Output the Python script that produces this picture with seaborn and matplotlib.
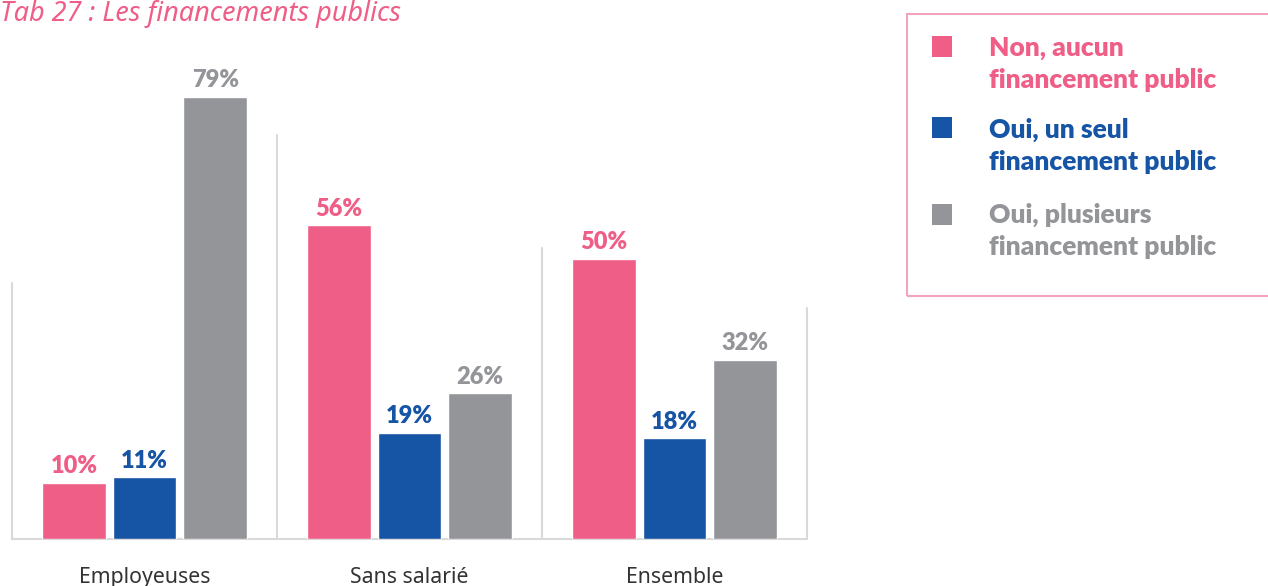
import numpy as np
import pandas as pd
import seaborn as sns
import matplotlib.pyplot as plt
from matplotlib.patches import Rectangle

# data
groups = ['Employeuses', 'Sans salarié', 'Ensemble']
series = ['Non, aucun\nfinancement public',
          'Oui, un seul\nfinancement public',
          'Oui, plusieurs\nfinancement public']
non_aucun = [10, 56, 50]
oui_un = [11, 19, 18]
oui_plusieurs = [79, 26, 32]
colors = ['#EF5E87', '#1654A5', '#949599']

# heights of the thin separator lines between groups (decoration)
sep_tops = [45.7, 72.2, 52.0, 41.3]

W, H = 1268, 586

df = pd.DataFrame({
    'groupe': groups * 3,
    'serie': [series[0]] * 3 + [series[1]] * 3 + [series[2]] * 3,
    'valeur': non_aucun + oui_un + oui_plusieurs,
})

sns.set_style('white')
plt.rcParams['font.family'] = ['Lato', 'DejaVu Sans']
regular = ['Noto Sans', 'DejaVu Sans']

fig = plt.figure(figsize=(W / 100, H / 100), dpi=100)
ax = fig.add_axes([12 / W, 47 / H, 795 / W, 504 / H])

sns.barplot(data=df, x='groupe', y='valeur', hue='serie', hue_order=series,
            palette=colors, width=0.8, gap=0.1, saturation=1,
            legend=False, ax=ax)

for cont, c in zip(ax.containers, colors):
    ax.bar_label(cont, fmt='%d%%', padding=4, color=c,
                 fontsize=17, fontweight='heavy')

ax.set_xlim(-0.5, 2.5)
ax.set_ylim(0, 90)
sns.despine(ax=ax, left=True, bottom=True)
ax.set_yticks([])
ax.set_xlabel('')
ax.set_ylabel('')
ax.tick_params(axis='x', length=0, pad=20)
for t in ax.get_xticklabels():
    t.set_family(regular)
    t.set_fontsize(15.3)
    t.set_color('#333333')

# separators and baseline
line_c = '#d9d9d9'
for xpos, top in zip(np.arange(-0.5, 3, 1), sep_tops):
    ax.plot([xpos, xpos], [0, top], color=line_c, lw=1.5, clip_on=False, zorder=0)
ax.plot([-0.5, 2.5], [0, 0], color=line_c, lw=1.5, clip_on=False, zorder=0)

# title
fig.text(0, 1 - 21 / H, 'Tab 27 : Les financements publics', color='#EF5E87',
         family=regular, fontsize=19.5, fontstyle='italic', va='baseline')

# legend box
box = Rectangle((907 / W, 1 - 296 / H), (1275 - 907) / W, (296 - 14) / H,
                transform=fig.transFigure, fill=False, edgecolor='#F4A3BC',
                lw=1.5)
fig.patches.append(box)
sq_tops = [36, 117, 204]
base1 = [56, 138, 223]
for lab, c, st, b in zip(series, colors, sq_tops, base1):
    fig.patches.append(Rectangle((932 / W, 1 - (st + 21) / H), 20 / W, 21 / H,
                                 transform=fig.transFigure, color=c, lw=0))
    l1, l2 = lab.split('\n')
    fig.text(989 / W, 1 - b / H, l1, color=c, fontsize=19,
             fontweight='heavy', va='baseline')
    fig.text(989 / W, 1 - (b + 32) / H, l2, color=c, fontsize=19,
             fontweight='heavy', va='baseline')

fig.savefig('out.png', dpi=100)
